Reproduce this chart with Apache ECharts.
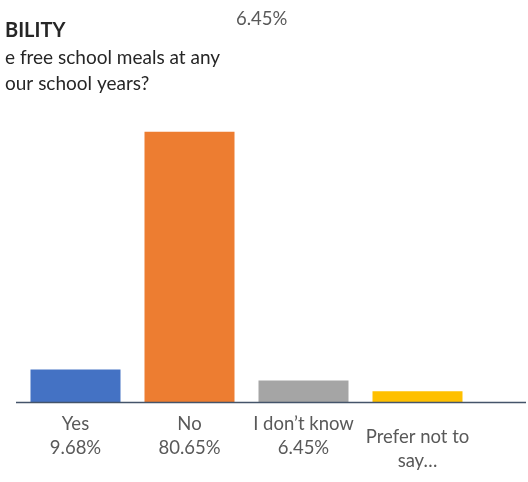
<!DOCTYPE html>
<html>
<head>
<meta charset="utf-8">
<style>
  html, body { margin: 0; padding: 0; background: #ffffff; }
  #chart { width: 528px; height: 482px; }
</style>
<script src="https://cdn.jsdelivr.net/npm/echarts@6/dist/echarts.min.js"></script>
</head>
<body>
<div id="chart"></div>
<script>
// Survey answers and their shares (%)
const categories = ['Yes', 'No', 'I don\u2019t know', 'Prefer not to say\u2026'];
const shares = [9.68, 80.65, 6.45, 3.23];
const barColors = ['#4472C4', '#ED7D31', '#A5A5A5', '#FFC000'];
const yMax = 100;

const FONT = 'Lato, "Liberation Sans", sans-serif';
const TEXT = '#595959';

// Category label text: name above the share, long names wrapped
const axisNames = ['Yes', 'No', 'I don\u2019t know', 'Prefer not to\nsay\u2026'];
const categoryData = categories.map((c, i) => ({
  value: c,
  textStyle: i === 3 ? { padding: [13, 0, 0, 0] } : {}
}));

const chart = echarts.init(document.getElementById('chart'), null, { renderer: 'canvas' });

chart.setOption({
  animation: false,
  backgroundColor: '#ffffff',
  textStyle: { fontFamily: FONT },
  title: [
    {
      text: 'BILITY',
      left: 0, top: 16,
      textStyle: { fontFamily: FONT, fontSize: 20, fontWeight: 'bold', color: '#262626' }
    },
    {
      text: 'e free school meals at any\nour school years?',
      left: 0, top: 40,
      textStyle: { fontFamily: FONT, fontSize: 19, fontWeight: 'normal', color: '#262626', lineHeight: 26 }
    },
    {
      text: shares[2].toFixed(2) + '%',
      left: 231, top: 5,
      textStyle: { fontFamily: FONT, fontSize: 18.5, fontWeight: 'normal', color: TEXT }
    }
  ],
  grid: { left: 18.5, width: 456, top: 67, bottom: 80, containLabel: false },
  xAxis: {
    type: 'category',
    data: categoryData,
    axisLine: { show: false },
    axisTick: { show: false },
    axisLabel: {
      interval: 0,
      margin: 10,
      fontFamily: FONT,
      fontSize: 18.5,
      lineHeight: 24,
      color: TEXT,
      formatter: (v, i) => i < 3 ? axisNames[i] + '\n' + shares[i].toFixed(2) + '%' : axisNames[i]
    }
  },
  yAxis: {
    type: 'value',
    min: 0,
    max: yMax,
    show: false,
    splitLine: { show: false }
  },
  series: [{
    type: 'bar',
    barWidth: 90,
    data: shares.map((v, i) => ({ value: v, itemStyle: { color: barColors[i] } }))
  }],
  graphic: [{
    type: 'line',
    shape: { x1: 16, y1: 402.5, x2: 526, y2: 402.5 },
    style: { stroke: '#44546A', lineWidth: 1.5 },
    z: 10
  }]
});
</script>
</body>
</html>
